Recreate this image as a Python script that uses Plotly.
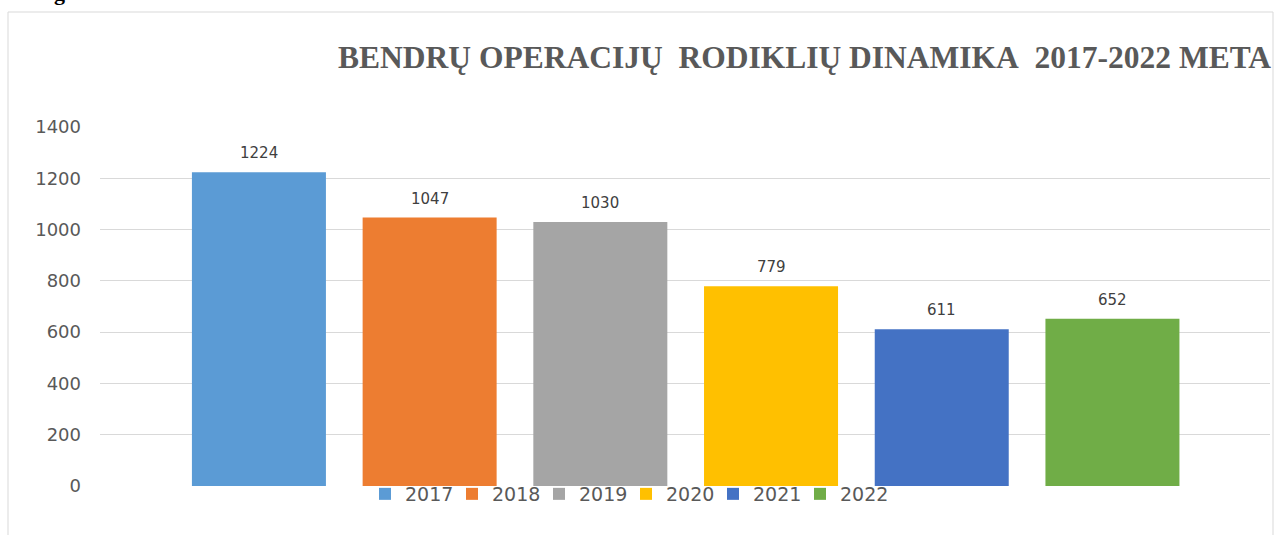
import plotly.graph_objects as go

# data
years = ["2017", "2018", "2019", "2020", "2021", "2022"]
operations = [1224, 1047, 1030, 779, 611, 652]
bar_colors = ["#5B9BD5", "#ED7D31", "#A5A5A5", "#FFC000", "#4472C4", "#70AD47"]
y_ticks = [0, 200, 400, 600, 800, 1000, 1200, 1400]

TITLE = "BENDRŲ OPERACIJŲ\u00a0\u00a0RODIKLIŲ DINAMIKA\u00a0\u00a02017-2022 META"
GRAY = "#595959"
LABEL = "#404040"
SANS = "DejaVu Sans, Verdana, sans-serif"
SERIF = "Liberation Serif, Times New Roman, serif"

W, H = 1279, 535
L, R, T, B = 100, 9, 127, 49
PW, PH = W - L - R, H - T - B


def px_x(p):
    return (p - L) / PW


def px_y(p):
    return (H - B - p) / PH


fig = go.Figure()
for yr, val, col in zip(years, operations, bar_colors):
    fig.add_trace(
        go.Bar(
            x=[yr],
            y=[val],
            name=yr,
            width=0.785,
            marker=dict(color=col, line=dict(width=0)),
            hoverinfo="x+y",
        )
    )

# value labels above the bars (category index keeps "2017" from being read as a number)
for i, val in enumerate(operations):
    fig.add_annotation(
        x=i, y=val, text=str(val), showarrow=False,
        yanchor="bottom", yshift=8,
        font=dict(family=SANS, size=15, color=LABEL),
    )

# chart title (runs up to the chart frame on the right)
fig.add_annotation(
    xref="paper", yref="paper", x=px_x(336), y=px_y(57),
    xanchor="left", yanchor="middle", text="<b>" + TITLE + "</b>",
    showarrow=False, font=dict(family=SERIF, size=31.5, color=GRAY),
)

# leftover caption text cut at the top of the screenshot
fig.add_annotation(
    xref="paper", yref="paper", x=px_x(46), y=px_y(7),
    xanchor="left", yanchor="bottom", text="<b>ig</b>",
    showarrow=False, font=dict(family=SERIF, size=22, color="#000000"),
)

# chart frame
fig.add_shape(
    type="rect", xref="paper", yref="paper",
    x0=px_x(8), x1=px_x(1273), y0=px_y(560), y1=px_y(12),
    line=dict(color="#D9D9D9", width=1), fillcolor="rgba(0,0,0,0)",
)

fig.update_layout(
    width=W, height=H,
    margin=dict(l=L, r=R, t=T, b=B),
    paper_bgcolor="white", plot_bgcolor="white",
    barmode="overlay",
    showlegend=True,
    legend=dict(
        orientation="h", x=px_x(626), xanchor="center",
        y=px_y(494), yanchor="middle",
        font=dict(family=SANS, size=19, color=GRAY),
        bgcolor="rgba(0,0,0,0)", itemclick=False,
        entrywidth=42, traceorder="normal",
    ),
)
fig.update_xaxes(
    type="category", range=[-0.931, 5.923],
    showticklabels=False, showgrid=False, showline=False, zeroline=False, ticks="",
)
fig.update_yaxes(
    range=[0, 1400], tickvals=y_ticks,
    showgrid=True, gridcolor="#D9D9D9", gridwidth=1,
    zeroline=True, zerolinecolor="white", showline=False, ticks="",
    ticklabelstandoff=18,
    tickfont=dict(family=SANS, size=18, color=GRAY),
)

# page body has an 8px default margin; drop it so the figure sits at the window corner
fig.write_html(
    "out.html",
    config={"displayModeBar": False},
    post_script="document.body.style.margin='0';",
)
